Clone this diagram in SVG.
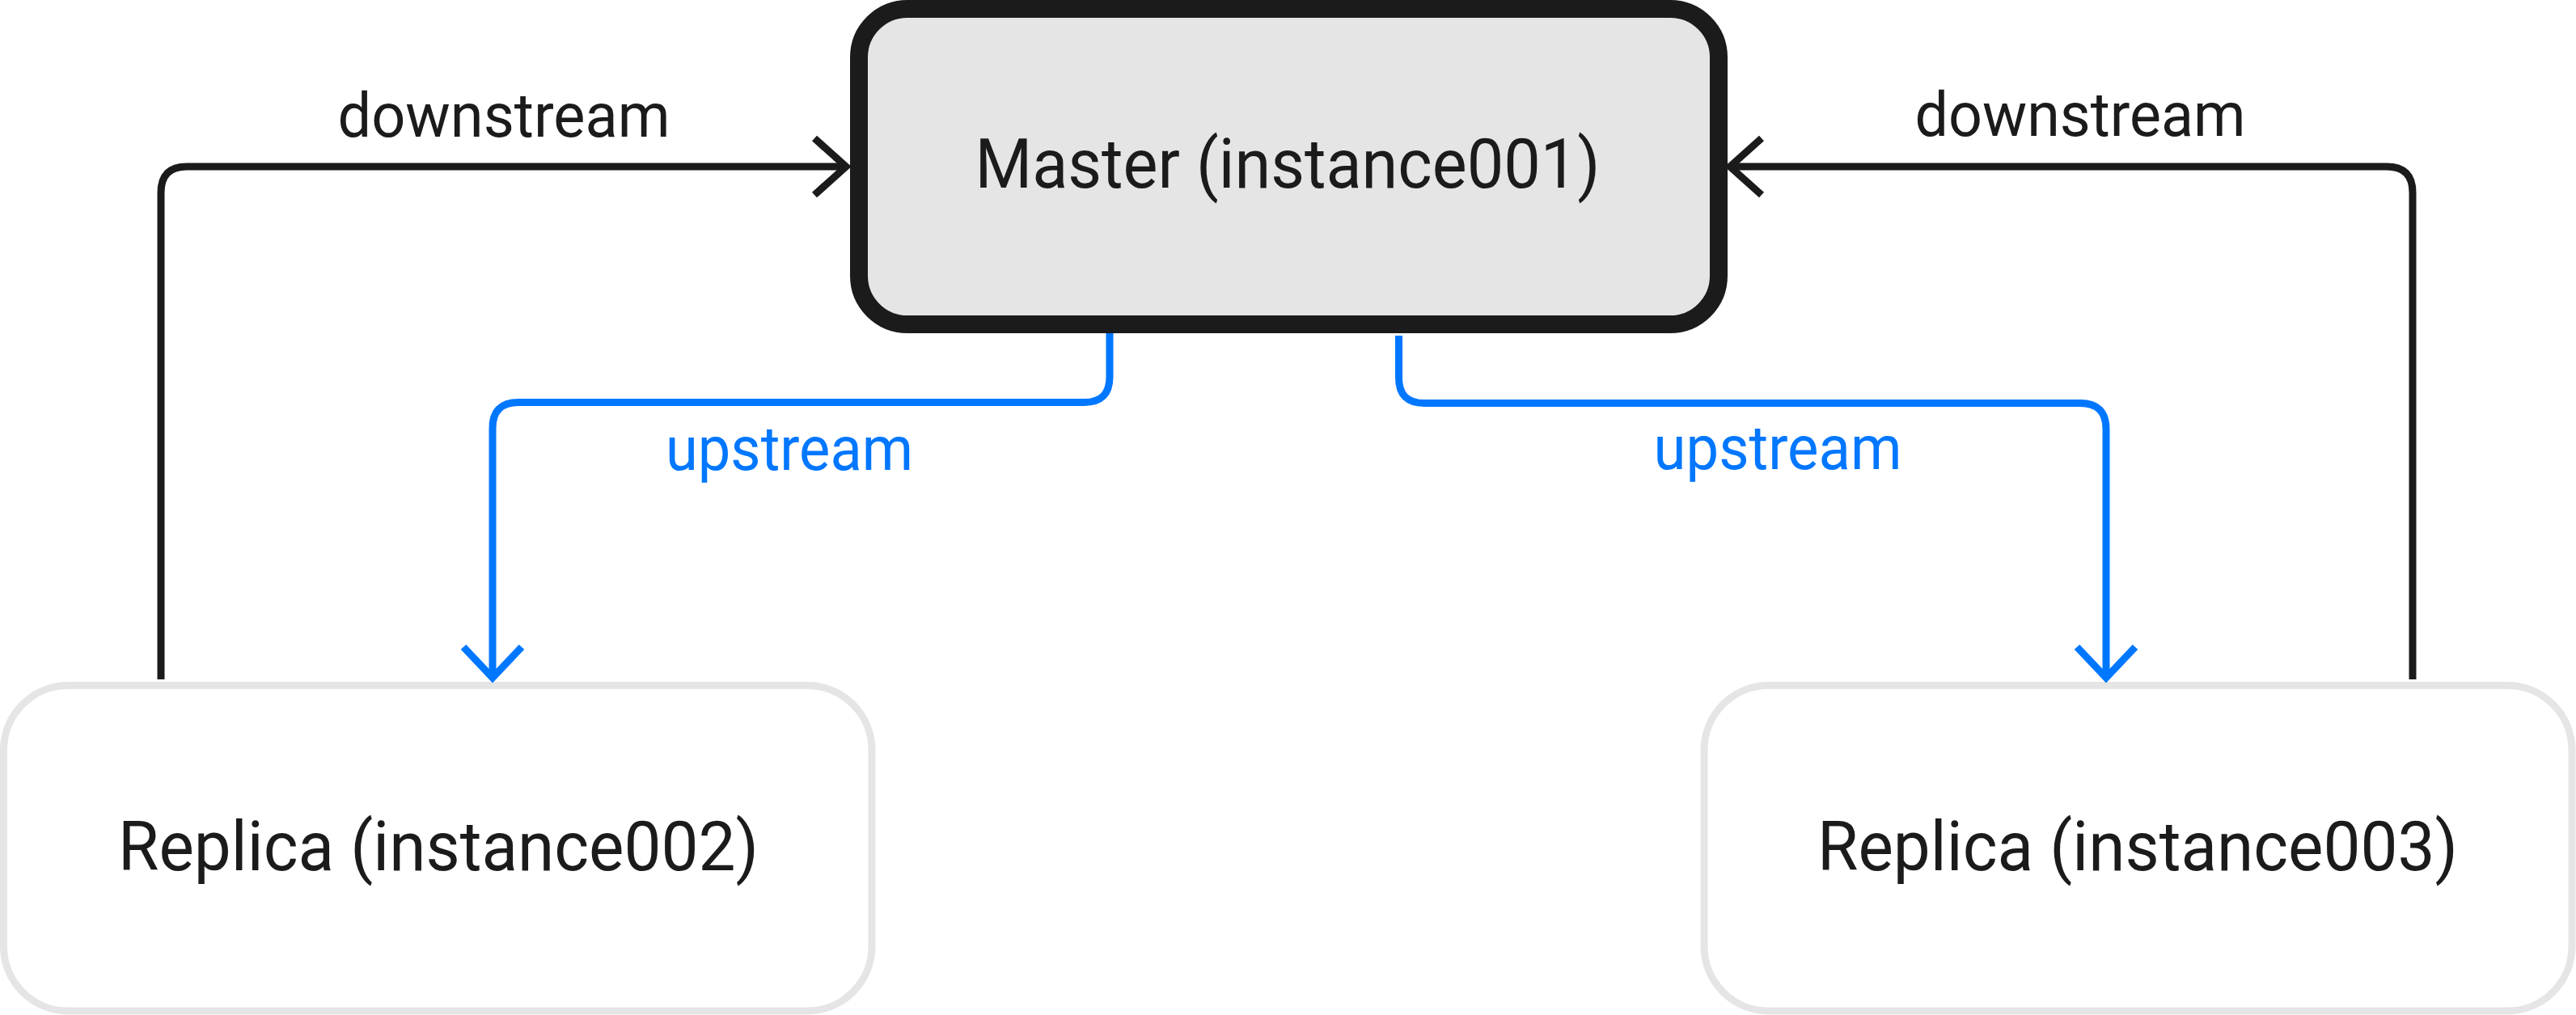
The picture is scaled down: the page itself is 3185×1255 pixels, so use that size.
<svg xmlns="http://www.w3.org/2000/svg" width="3185" height="1255" viewBox="0 0 3185 1255">
<style>
.lbl{font-family:Roboto,"Noto Sans","Liberation Sans",sans-serif;}
.node-text{font-size:86px;fill:#1b1b1b;text-anchor:middle;}
.edge-text{font-size:76px;text-anchor:middle;}
.black{fill:none;stroke:#1b1b1b;stroke-width:9;}
.blue{fill:none;stroke:#0077ff;stroke-width:9;}
</style>
<defs>
<marker id="arrBlack" markerUnits="userSpaceOnUse" orient="auto" refX="0" refY="0" markerWidth="100" markerHeight="100" viewBox="-50 -50 100 100" overflow="visible">
<path d="M -39 -35 L 0 0 L -39 35" fill="none" stroke="#1b1b1b" stroke-width="9"/>
</marker>
<marker id="arrBlue" markerUnits="userSpaceOnUse" orient="auto" refX="0" refY="0" markerWidth="100" markerHeight="100" viewBox="-50 -50 100 100" overflow="visible">
<path d="M -38 -36 L 0 0 L -38 36" fill="none" stroke="#0077ff" stroke-width="9"/>
</marker>
</defs>
<rect width="3185" height="1255" fill="#ffffff"/>
<g id="master">
<rect x="1062" y="11" width="1063" height="390" rx="60" ry="60" fill="#e5e5e5" stroke="#1b1b1b" stroke-width="22"/>
<text class="lbl node-text" x="1592" y="232" textLength="773" lengthAdjust="spacingAndGlyphs">Master (instance001)</text>
</g>
<g id="replica002">
<rect x="4.5" y="847.5" width="1073.5" height="402.5" rx="80" ry="80" fill="#ffffff" stroke="#e5e5e5" stroke-width="9"/>
<text class="lbl node-text" x="542" y="1076" textLength="792" lengthAdjust="spacingAndGlyphs">Replica (instance002)</text>
</g>
<g id="replica003">
<rect x="2107" y="847.5" width="1073" height="402.5" rx="80" ry="80" fill="#ffffff" stroke="#e5e5e5" stroke-width="9"/>
<text class="lbl node-text" x="2643" y="1076" textLength="792" lengthAdjust="spacingAndGlyphs">Replica (instance003)</text>
</g>
<g id="connectors">
<path class="black" d="M 199 840 V 238 Q 199 206 231 206 H 1046" marker-end="url(#arrBlack)"/>
<text class="lbl edge-text" x="623" y="169" fill="#1b1b1b" textLength="411" lengthAdjust="spacingAndGlyphs">downstream</text>
<path class="black" d="M 2983 840 V 238 Q 2983 206 2951 206 H 2139" marker-end="url(#arrBlack)"/>
<text class="lbl edge-text" x="2572" y="168" fill="#1b1b1b" textLength="409" lengthAdjust="spacingAndGlyphs">downstream</text>
<path class="blue" d="M 1372 412 V 466 Q 1372 497.5 1340.5 497.5 H 641 Q 609 497.5 609 529.5 V 838" marker-end="url(#arrBlue)"/>
<text class="lbl edge-text" x="976" y="581" fill="#0077ff" textLength="306" lengthAdjust="spacingAndGlyphs">upstream</text>
<path class="blue" d="M 1729.5 415 V 467 Q 1729.5 498.5 1761 498.5 H 2572 Q 2604 498.5 2604 530.5 V 838" marker-end="url(#arrBlue)"/>
<text class="lbl edge-text" x="2198" y="580" fill="#0077ff" textLength="307" lengthAdjust="spacingAndGlyphs">upstream</text>
</g>
</svg>
